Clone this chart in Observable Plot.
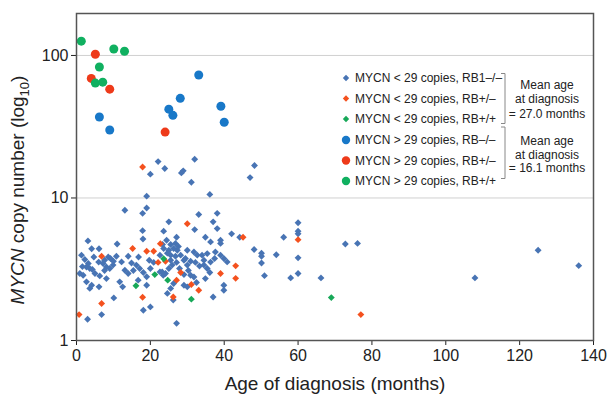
<!DOCTYPE html>
<html><head><meta charset="utf-8">
<script src="https://cdn.jsdelivr.net/npm/d3@7"></script>
<script src="https://cdn.jsdelivr.net/npm/@observablehq/plot@0.6"></script>
<style>
body{margin:0;background:#fff;}
#chart svg{display:block;font-family:"Liberation Sans",Arial,sans-serif;}
</style>
</head><body><div id="chart"></div>
<script>
// ---- data ----
const xTicks = [0, 20, 40, 60, 80, 100, 120, 140];
const yTicks = [1, 10, 100];

// [age (months), MYCN copy number]
const lowNull = [
[22.1,18.0],[20.0,14.7],[23.9,16.1],[32.0,18.7],[28.4,15.0],[28.9,15.5],[31.1,12.9],[36.1,10.6],[48.2,16.9],[47.0,13.9],[19.0,10.3],[13.1,8.2],[19.0,8.5],[17.9,7.8],[33.1,7.65],[38.1,7.8],[25.0,6.8],[37.0,6.8],[32.0,6.0],[38.1,6.1],[17.9,5.9],[23.6,5.85],[27.1,5.3],[34.9,5.3],[42.0,5.6],[39.0,5.05],[44.2,5.3],[60.0,6.7],[60.0,5.85],[60.0,5.6],[56.1,5.3],[48.1,4.35],[50.1,4.1],[50.1,3.9],[50.1,3.5],[54.1,4.0],[60.0,3.8],[50.9,2.85],[58.0,2.75],[60.0,2.95],[66.2,2.75],[72.8,4.75],[76.1,4.8],[107.9,2.75],[125.0,4.3],[136.0,3.35],
[3.1,5.0],[11.0,4.75],[18.0,5.15],[1.35,3.97],[4.1,4.4],[6.1,4.4],[2.25,3.7],[4.7,3.85],[8.6,3.85],[10.8,3.9],[14.0,3.9],[19.7,3.66],[16.8,3.85],[12.2,3.56],[3.2,3.47],[2.7,3.28],[3.6,3.2],[7.2,3.47],[8.1,3.28],[9.0,3.2],[9.9,3.38],[16.2,3.38],[17.1,3.2],[22.6,3.97],[0.9,2.95],[1.8,2.87],[5.0,2.95],[6.3,2.84],[13.1,3.11],[14.0,2.95],[18.1,3.0],[19.0,2.8],[22.6,3.03],[23.5,2.87],[8.1,2.72],[2.7,2.58],[4.1,2.44],[3.6,2.32],[6.1,2.38],[11.7,2.58],[12.5,2.38],[16.7,2.65],[19.0,2.44],[10.1,1.99],[20.0,1.72],[18.1,1.63],[6.8,1.52],[3.0,1.41],
[7.6,3.66],[9.2,3.76],[10.0,3.6],[7.6,3.1],[6.0,3.55],[1.6,3.3],[4.3,3.15],[14.9,3.5],[15.4,3.1],[20.9,3.53],[20.0,3.2],
[36.3,4.92],[39.0,4.8],[23.6,4.42],[25.0,4.3],[26.3,4.42],[27.3,4.3],[30.0,4.3],[31.8,4.18],[32.7,3.97],[34.0,3.97],[35.4,4.07],[37.6,4.18],[39.0,3.97],[39.9,3.76],[40.8,3.56],[25.5,3.97],[25.5,3.66],[25.9,3.38],[25.0,3.2],[28.2,3.97],[29.1,3.66],[30.0,3.38],[34.5,3.66],[34.5,3.38],[35.4,3.2],[23.2,3.03],[24.1,2.95],[29.1,2.9],[30.9,2.87],[31.8,2.79],[36.1,3.0],[34.9,2.72],[26.3,2.51],[25.5,2.32],[29.1,2.44],[30.0,2.38],[39.9,2.44],[39.9,2.25],[24.6,2.14],[37.0,2.02],[26.2,1.92],[27.1,1.32],
[23.3,4.72],[24.4,5.05],[25.5,4.72],[26.8,4.8],[27.6,4.57],[24.6,4.1],[26.8,3.9],[29.5,3.76],[30.9,3.6],[32.2,3.53],[33.3,3.33],[27.1,3.53],[27.9,3.2],[30.3,3.1],[32.5,2.55],[36.3,3.55],[37.4,3.76]
];
const lowHet = [[17.9,16.5],[30.0,6.6],[45.1,5.3],[60.0,5.1],[6.8,3.9],[15.2,4.42],[19.0,4.23],[20.9,4.23],[22.1,3.53],[22.7,4.78],[24.1,3.6],[28.2,3.0],[39.0,2.95],[43.1,3.34],[43.1,2.73],[27.1,2.65],[31.1,2.47],[33.1,2.25],[26.2,2.02],[17.9,2.01],[6.8,1.82],[0.7,1.52],[77.0,1.52]];
const lowWt = [[23.6,3.75],[21.2,2.9],[16.1,2.42],[24.7,2.65],[31.1,1.95],[69.0,2.0]];
const highNull = [[6.2,37],[9.0,30],[33.1,73],[28.1,50],[25.0,42],[26.1,38],[39.1,44],[40.0,34]];
const highHet = [[5.1,102],[4.0,69],[9.0,58],[24.0,29]];
const highWt = [[1.3,126],[10.1,111],[13.0,107],[6.2,83],[5.1,64],[7.1,65]];

const groupLabels = ["MYCN < 29 copies, RB1–/–","MYCN < 29 copies, RB+/–","MYCN < 29 copies, RB+/+","MYCN > 29 copies, RB–/–","MYCN > 29 copies, RB+/–","MYCN > 29 copies, RB+/+"];
const groupColors = ["#4874b4","#f4511e","#17a858","#1878c8","#ee3a1a","#10b060"];
const groupShapes = ["diamond2","diamond2","diamond2","circle","circle","circle"];
const groupData = [lowNull, lowHet, lowWt, highNull, highHet, highWt];
const meanTexts = [["Mean age","at diagnosis","= 27.0 months"],["Mean age","at diagnosis","= 16.1 months"]];

// ---- chart ----
const dotMarks = groupData.map((data, i) => Plot.dot(data, {
  x: d => d[0], y: d => d[1],
  symbol: groupShapes[i],
  r: groupShapes[i] === "circle" ? 4.5 : 3.1,
  fill: groupColors[i], stroke: "none"
}));

const plot = Plot.plot({
  width: 608, height: 402,
  marginLeft: 76, marginRight: 15, marginTop: 13, marginBottom: 62,
  style: {fontFamily: "Liberation Sans, Arial, sans-serif", fontSize: "16px", color: "#222", background: "#fff"},
  x: {domain: [0, 140], ticks: xTicks, label: null, tickSize: 5, tickPadding: 4},
  y: {type: "log", domain: [1, 197], ticks: yTicks, tickFormat: d => String(d), label: null, tickSize: 5, tickPadding: 3},
  marks: [
    Plot.ruleY([10, 100], {stroke: "#d0d0d0", strokeWidth: 1}),
    ...dotMarks,
    Plot.frame({stroke: "#555", strokeWidth: 1.5})
  ]
});

const svg = d3.select(plot);
// axis titles
const yl = svg.append("text")
  .attr("transform", "translate(24,190) rotate(-90)")
  .attr("text-anchor", "middle").attr("font-size", 19).attr("fill", "#222");
yl.append("tspan").attr("font-style", "italic").text("MYCN");
yl.append("tspan").text(" copy number (log");
yl.append("tspan").attr("font-size", 13).attr("dy", 5).text("10");
yl.append("tspan").attr("dy", -5).text(")");
svg.append("text").attr("x", 335).attr("y", 390).attr("text-anchor", "middle")
  .attr("font-size", 19).attr("fill", "#222").text("Age of diagnosis (months)");

// legend
const lg = svg.append("g").attr("font-size", 12).attr("fill", "#222");
const rowY = [78, 98.5, 119, 140, 160.5, 181];
groupLabels.forEach((lab, i) => {
  const y = rowY[i];
  if (groupShapes[i] === "circle") {
    lg.append("circle").attr("cx", 346).attr("cy", y).attr("r", 4.2).attr("fill", groupColors[i]);
  } else {
    lg.append("path").attr("transform", `translate(346,${y})`)
      .attr("d", d3.symbol(d3.symbolDiamond2, 26)()).attr("fill", groupColors[i]);
  }
  lg.append("text").attr("x", 355).attr("y", y).attr("dy", "0.35em")
    .attr("text-anchor", "start").text(lab);
});
lg.append("path").attr("d", "M501,73.5H505V123.5H501M501,127H505V178.5H501")
  .attr("fill", "none").attr("stroke", "#888").attr("stroke-width", 1);
const mY = [[85, 99, 113.3], [141, 154.5, 167.5]];
meanTexts.forEach((lines, j) => lines.forEach((t, k) => {
  lg.append("text").attr("x", 547).attr("y", mY[j][k]).attr("dy", "0.35em")
    .attr("text-anchor", "middle").text(t);
}));

document.getElementById("chart").appendChild(plot);
</script>
</body></html>
